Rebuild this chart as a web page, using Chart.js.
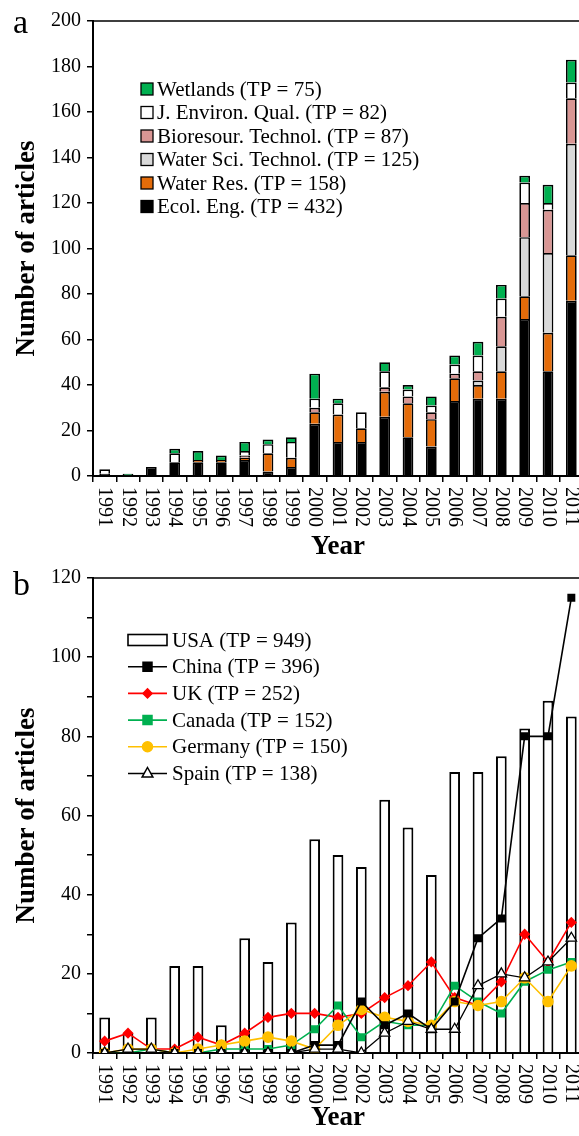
<!DOCTYPE html>
<html>
<head>
<meta charset="utf-8">
<script src="https://cdn.jsdelivr.net/npm/chart.js@4.4.0/dist/chart.umd.min.js"></script>
<style>
html, body { margin: 0; padding: 0; background: #fff; overflow: hidden; }
#wrap { position: relative; width: 579px; height: 1136px; overflow: hidden; }
canvas { position: absolute; left: 0; }
#chartA { top: 0; }
#chartB { top: 560px; }
</style>
</head>
<body>
<div id="wrap">
  <canvas id="chartB" width="600" height="576"></canvas>
  <canvas id="chartA" width="600" height="566"></canvas>
</div>
<script>
// years on both x axes
const years = ["1991","1992","1993","1994","1995","1996","1997","1998","1999","2000",
               "2001","2002","2003","2004","2005","2006","2007","2008","2009","2010","2011"];

// panel a: articles per journal (stacked, bottom to top)
const journals   = ["Ecol. Eng.", "Water Res.", "Water Sci. Technol.", "Bioresour. Technol.", "J. Environ. Qual.", "Wetlands"];
const journalTP  = [432, 158, 125, 87, 82, 75];
const journalColors = ["#000000", "#e46c0a", "#d9d9d9", "#d99694", "#ffffff", "#00b050"];
const ecolEng    = [1, 0, 4, 6, 6, 6, 7, 2, 4, 23, 15, 15, 26, 17, 13, 33, 34, 34, 69, 46, 77];
const waterRes   = [0, 0, 0, 0, 1, 1, 1, 8, 4, 5, 12, 6, 11, 15, 12, 10, 6, 12, 10, 17, 20];
const waterSci   = [0, 0, 0, 0, 0, 0, 0, 0, 0, 0, 0, 0, 0, 0, 0, 0, 2, 11, 26, 35, 49];
const bioresour  = [0, 0, 0, 0, 0, 0, 1, 0, 0, 2, 0, 0, 2, 3, 3, 2, 4, 13, 15, 19, 20];
const jEnvQual   = [2, 0, 0, 4, 0, 0, 2, 4, 7, 4, 5, 7, 7, 3, 3, 4, 7, 8, 9, 3, 7];
const wetlands   = [0, 1, 0, 2, 4, 2, 4, 2, 2, 11, 2, 0, 4, 2, 4, 4, 6, 6, 3, 8, 10];
const journalData = [ecolEng, waterRes, waterSci, bioresour, jEnvQual, wetlands];

// panel b: articles per country
const usa     = [9, 5, 9, 22, 22, 7, 29, 23, 33, 54, 50, 47, 64, 57, 45, 71, 71, 75, 82, 89, 85];
const china   = [0, 0, 0, 0, 0, 0, 0, 0, 0, 2, 2, 13, 7, 10, 6, 13, 29, 34, 80, 80, 115];
const uk      = [3, 5, 1, 1, 4, 2, 5, 9, 10, 10, 9, 10, 14, 17, 23, 14, 12, 18, 30, 23, 33];
const canada  = [0, 0, 1, 0, 0, 1, 1, 1, 2, 6, 12, 4, 8, 7, 7, 17, 13, 10, 18, 21, 23];
const germany = [0, 1, 1, 0, 1, 2, 3, 4, 3, 1, 7, 11, 9, 8, 7, 13, 12, 13, 19, 13, 22];
const spain   = [0, 1, 1, 0, 0, 0, 0, 0, 0, 1, 1, 0, 5, 8, 6, 6, 17, 20, 19, 23, 29];

const SERIF = '"Liberation Serif", "Times New Roman", serif';

function drawMarker(ctx, style, x, y, r, fill, stroke) {
    ctx.beginPath();
    if (style === "rect") {
        ctx.rect(x - r, y - r, 2 * r, 2 * r);
    } else if (style === "rectRot") {
        ctx.moveTo(x, y - r); ctx.lineTo(x + r, y); ctx.lineTo(x, y + r); ctx.lineTo(x - r, y); ctx.closePath();
    } else if (style === "circle") {
        ctx.arc(x, y, r, 0, Math.PI * 2);
    } else if (style === "triangle") {
        ctx.moveTo(x, y - r); ctx.lineTo(x + r * 0.9, y + r * 0.6); ctx.lineTo(x - r * 0.9, y + r * 0.6); ctx.closePath();
    }
    ctx.fillStyle = fill;
    ctx.fill();
    ctx.lineWidth = 1.5;
    ctx.strokeStyle = stroke;
    ctx.stroke();
}

// year labels read top to bottom (rotated clockwise)
const yearLabels = {
    id: "yearLabels",
    afterDraw(chart) {
        const xs = chart.scales.x;
        const ctx = chart.ctx;
        ctx.save();
        ctx.font = "20px " + SERIF;
        ctx.fillStyle = "#000";
        ctx.textAlign = "left";
        ctx.textBaseline = "middle";
        chart.data.labels.forEach((lab, i) => {
            ctx.save();
            ctx.translate(xs.getPixelForValue(i), xs.top + 11);
            ctx.rotate(Math.PI / 2);
            ctx.fillText(lab, 0, 0);
            ctx.restore();
        });
        ctx.restore();
    }
};

// top frame line and the panel letter
const frame = {
    id: "frame",
    afterDraw(chart, args, opts) {
        const a = chart.chartArea;
        const ctx = chart.ctx;
        ctx.save();
        ctx.strokeStyle = "#000";
        ctx.lineWidth = 1.5;
        ctx.beginPath();
        ctx.moveTo(a.left, a.top);
        ctx.lineTo(a.right, a.top);
        ctx.lineTo(a.right, a.bottom);
        ctx.stroke();
        ctx.font = "34px " + SERIF;
        ctx.fillStyle = "#000";
        ctx.textAlign = "left";
        ctx.textBaseline = "alphabetic";
        ctx.fillText(opts.letter, 13, opts.letterY);
        ctx.restore();
    }
};

const legendA = {
    id: "legendA",
    afterDraw(chart) {
        const ctx = chart.ctx;
        ctx.save();
        ctx.font = "21px " + SERIF;
        ctx.textBaseline = "middle";
        ctx.textAlign = "left";
        const ds = chart.data.datasets.slice().reverse();
        ds.forEach((d, i) => {
            const y = 89 + i * 23.5;
            ctx.fillStyle = d.backgroundColor;
            ctx.fillRect(141, y - 6, 12, 12);
            ctx.strokeStyle = "#000";
            ctx.lineWidth = 1.3;
            ctx.strokeRect(141, y - 6, 12, 12);
            ctx.fillStyle = "#000";
            ctx.fillText(d.label, 157, y + 1);
        });
        ctx.restore();
    }
};

const legendB = {
    id: "legendB",
    afterDraw(chart) {
        const ctx = chart.ctx;
        ctx.save();
        ctx.font = "21px " + SERIF;
        ctx.textBaseline = "middle";
        ctx.textAlign = "left";
        chart.data.datasets.forEach((d, i) => {
            const y = 80 + i * 26.7;
            if (d.type === "bar") {
                ctx.fillStyle = "#fff";
                ctx.fillRect(128, y - 5.5, 39, 11);
                ctx.strokeStyle = "#000";
                ctx.lineWidth = 1.6;
                ctx.strokeRect(128, y - 5.5, 39, 11);
            } else {
                ctx.strokeStyle = d.borderColor;
                ctx.lineWidth = 1.6;
                ctx.beginPath();
                ctx.moveTo(128, y);
                ctx.lineTo(167, y);
                ctx.stroke();
                drawMarker(ctx, d.pointStyle, 147.5, y, d.pointRadius, d.pointBackgroundColor, d.pointBorderColor);
            }
            ctx.fillStyle = "#000";
            ctx.fillText(d.label, 172, y + 1);
        });
        ctx.restore();
    }
};

function yAxis(maxVal, width) {
    return {
        min: 0,
        max: maxVal,
        afterFit(scale) { scale.width = width; },
        border: { display: true, color: "#000", width: 2 },
        grid: { drawOnChartArea: false, drawTicks: true, tickLength: 6, color: "#000", lineWidth: 1.5 },
        ticks: {
            stepSize: 10,
            color: "#000",
            padding: 6,
            font: { family: SERIF, size: 20 },
            callback: v => (v % 20 === 0 ? v : "")
        },
        title: {
            display: true,
            text: "Number of articles",
            color: "#000",
            font: { family: SERIF, size: 27, weight: "bold" },
            padding: { top: 11, bottom: 0 }
        }
    };
}

function xAxis(height, padBottom) {
    return {
        afterFit(scale) { scale.height = height; },
        border: { display: true, color: "#000", width: 2 },
        grid: { offset: true, drawOnChartArea: false, drawTicks: true, tickLength: 6, color: "#000", lineWidth: 1.5 },
        ticks: { display: false },
        title: {
            display: true,
            text: "Year",
            color: "#000",
            font: { family: SERIF, size: 27, weight: "bold" },
            padding: { top: 0, bottom: padBottom }
        }
    };
}

new Chart(document.getElementById("chartA"), {
    type: "bar",
    data: {
        labels: years,
        datasets: journals.map((name, k) => ({
            label: name + " (TP = " + journalTP[k] + ")",
            data: journalData[k].map(v => (v === 0 ? null : v)),
            backgroundColor: journalColors[k],
            borderColor: "#000",
            borderWidth: 1.7,
            barPercentage: 0.46,
            categoryPercentage: 1
        }))
    },
    options: {
        responsive: false,
        animation: false,
        layout: { padding: { top: 21, right: 17, left: 0, bottom: 0 } },
        plugins: { legend: { display: false }, tooltip: { enabled: false }, frame: { letter: "a", letterY: 33 } },
        scales: {
            x: Object.assign(xAxis(90, 3), { stacked: true }),
            y: Object.assign(yAxis(200, 93), { stacked: true })
        }
    },
    plugins: [yearLabels, frame, legendA]
});

new Chart(document.getElementById("chartB"), {
    type: "bar",
    data: {
        labels: years,
        datasets: [
            { type: "bar", label: "USA (TP = 949)", data: usa, backgroundColor: "#fff", borderColor: "#000",
              borderWidth: 2, barPercentage: 0.46, categoryPercentage: 1, order: 10 },
            { type: "line", label: "China (TP = 396)", data: china, borderColor: "#000", borderWidth: 1.6,
              pointStyle: "rect", pointRadius: 4.5, pointBackgroundColor: "#000", pointBorderColor: "#000", order: 2 },
            { type: "line", label: "UK (TP = 252)", data: uk, borderColor: "#ff0000", borderWidth: 1.6,
              pointStyle: "rectRot", pointRadius: 4.5, pointBackgroundColor: "#ff0000", pointBorderColor: "#ff0000", order: 5 },
            { type: "line", label: "Canada (TP = 152)", data: canada, borderColor: "#00b050", borderWidth: 1.6,
              pointStyle: "rect", pointRadius: 4.5, pointBackgroundColor: "#00b050", pointBorderColor: "#00b050", order: 4 },
            { type: "line", label: "Germany (TP = 150)", data: germany, borderColor: "#ffc000", borderWidth: 1.6,
              pointStyle: "circle", pointRadius: 5, pointBackgroundColor: "#ffc000", pointBorderColor: "#ffc000", order: 3 },
            { type: "line", label: "Spain (TP = 138)", data: spain, borderColor: "#000", borderWidth: 1.3,
              pointStyle: "triangle", pointRadius: 6, pointBackgroundColor: "#fff", pointBorderColor: "#000", order: 1 }
        ]
    },
    options: {
        responsive: false,
        animation: false,
        layout: { padding: { top: 16, right: 17, left: 0, bottom: 0 } },
        plugins: { legend: { display: false }, tooltip: { enabled: false }, frame: { letter: "b", letterY: 35 } },
        elements: { line: { tension: 0 }, point: { borderWidth: 1.5 } },
        scales: {
            x: xAxis(83, 2),
            y: yAxis(120, 93)
        }
    },
    plugins: [yearLabels, frame, legendB]
});
</script>
</body>
</html>
